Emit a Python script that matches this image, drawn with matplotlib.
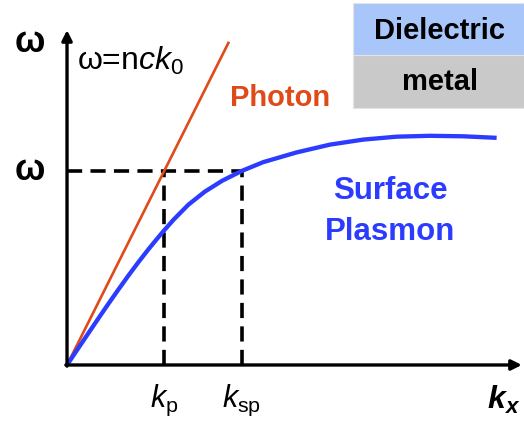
import matplotlib
matplotlib.use('Agg')
import matplotlib.pyplot as plt
from matplotlib.patches import Rectangle

plt.rcParams['font.family'] = ['Liberation Sans', 'DejaVu Sans']
plt.rcParams['mathtext.fontset'] = 'custom'
plt.rcParams['mathtext.rm'] = 'Liberation Sans'
plt.rcParams['mathtext.it'] = 'Liberation Sans:italic'
plt.rcParams['mathtext.bf'] = 'Liberation Sans:bold:italic'

# dispersion data (k in units of k_p)
k_sp_curve = [0.0, 0.121, 0.224, 0.327, 0.430, 0.533, 0.636, 0.739, 0.842,
              0.945, 1.0, 1.10, 1.25, 1.42, 1.60, 1.804, 2.024, 2.368,
              2.711, 3.055, 3.399, 3.742, 4.086, 4.430]
w_sp_curve = [0.0, 0.180, 0.333, 0.485, 0.635, 0.782, 0.925, 1.063, 1.195,
              1.320, 1.385, 1.498, 1.650, 1.785, 1.898, 2.0, 2.090, 2.190,
              2.270, 2.322, 2.352, 2.361, 2.356, 2.340]
k_photon = [0.0, 1.67]
w_photon = [0.0, 3.33]
k_p = 1.0
k_sp = 1.804
w_level = 2.0

orange = '#DF4A18'
blue = '#2B3CFF'

fig = plt.figure(figsize=(5.24, 4.25), dpi=100)
ax = fig.add_axes([0.1279, 0.1412, 0.868, 0.788])
xmax, ymax = 4.69, 3.45
ax.set_xlim(0, xmax)
ax.set_ylim(0, ymax)
ax.axis('off')

# axes with arrow heads
arrow = dict(arrowstyle='-|>,head_length=0.6,head_width=0.3', color='black',
             lw=2.4, shrinkA=0, shrinkB=0)
ax.annotate('', xy=(xmax, 0), xytext=(-0.012, 0), arrowprops=arrow, annotation_clip=False)
ax.annotate('', xy=(0, ymax), xytext=(0, -0.012), arrowprops=arrow, annotation_clip=False)

# guide lines
dash = (4.2, 2.3)
for xs, ys in [([0, k_sp], [w_level, w_level]),
               ([k_p, k_p], [0, w_level]),
               ([k_sp, k_sp], [0, w_level])]:
    ax.plot(xs, ys, color='black', lw=2.6, dashes=dash, clip_on=False)

ax.plot(k_photon, w_photon, color=orange, lw=1.9, solid_capstyle='butt', clip_on=False)
ax.plot(k_sp_curve, w_sp_curve, color=blue, lw=3.1, solid_capstyle='butt',
        solid_joinstyle='round', clip_on=False)

# labels
ax.text(-0.38, 3.32, 'ω', fontsize=26, fontweight='bold', ha='center', va='center')
ax.text(-0.38, w_level, 'ω', fontsize=26, fontweight='bold', ha='center', va='center')
ax.text(0.1, 3.13, r'ω=n$\mathit{ck}_\mathrm{0}$', fontsize=23,
        ha='left', va='center')
ax.text(2.2, 2.75, 'Photon', fontsize=21, fontweight='bold', color=orange,
        ha='center', va='center')
ax.text(3.33, 1.58, 'Surface\nPlasmon', fontsize=22.5, fontweight='bold', color=blue,
        ha='center', va='center', linespacing=1.45)
ax.text(k_p, -0.36, r'$\mathit{k}_\mathrm{p}$', fontsize=22, ha='center', va='center')
ax.text(k_sp, -0.36, r'$\mathit{k}_\mathrm{sp}$', fontsize=22, ha='center', va='center')
ax.text(4.5, -0.36, r'$\mathbf{k_x}$', fontsize=23, ha='center', va='center')

# material stack in the corner
fig.add_artist(Rectangle((353 / 524, 1 - 55 / 425), 171 / 524, 52 / 425,
                         transform=fig.transFigure, facecolor='#A8C6FA',
                         edgecolor='#E4E4E4', lw=0.8))
fig.add_artist(Rectangle((353 / 524, 1 - 108 / 425), 171 / 524, 53 / 425,
                         transform=fig.transFigure, facecolor='#C9C9C9',
                         edgecolor='#E4E4E4', lw=0.8))
fig.text(440 / 524, 1 - 31 / 425, 'Dielectric', fontsize=21, fontweight='bold',
         ha='center', va='center')
fig.text(440 / 524, 1 - 82 / 425, 'metal', fontsize=21, fontweight='bold',
         ha='center', va='center')

fig.savefig('out.png', dpi=100)
